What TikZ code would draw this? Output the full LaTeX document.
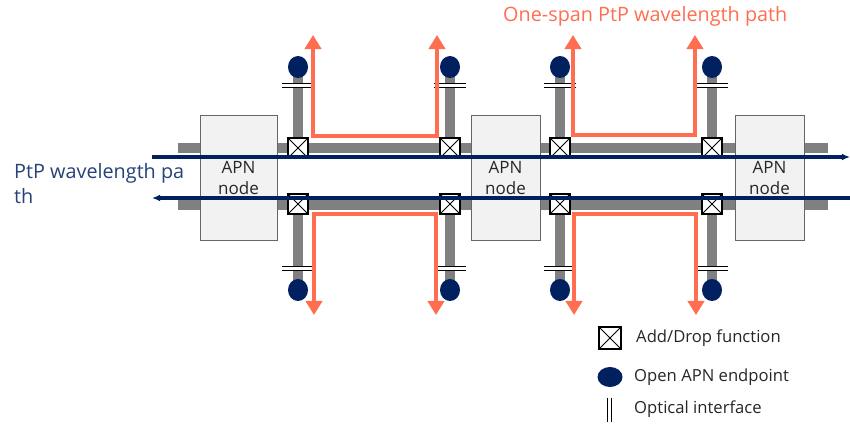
\documentclass[tikz,border=0pt]{standalone}
\usepackage{fontspec}
\setmainfont{Open Sans}
\usetikzlibrary{arrows.meta,shapes.geometric,backgrounds}
\definecolor{navy}{RGB}{0,32,96}
\definecolor{coral}{RGB}{255,110,80}
\definecolor{bar}{RGB}{128,128,128}
\definecolor{boxfill}{RGB}{242,242,242}

\begin{document}
\begin{tikzpicture}[x=0.03cm,y=-0.03cm]
  \tikzstyle{fiber}=[draw=bar,line width=8.5pt]
  \tikzstyle{apn}=[rectangle,draw=black!60,fill=boxfill,minimum height=3.75cm,inner sep=0pt,align=center,text=black!85,font=\fontsize{14.5}{18}\selectfont]
  \tikzstyle{adddrop}=[rectangle,draw=black,fill=white,line width=1.9pt,minimum size=0.62cm,inner sep=0pt,
    path picture={\draw[line width=0.8pt] (path picture bounding box.south west) -- (path picture bounding box.north east)
      (path picture bounding box.north west) -- (path picture bounding box.south east);}]
  \tikzstyle{endpoint}=[ellipse,fill=navy,minimum width=0.6cm,minimum height=0.66cm,inner sep=0pt]
  \tikzstyle{wave}=[draw=navy,line width=2.6pt]
  \tikzstyle{span}=[draw=coral,line width=2.6pt,{Triangle[width=14pt,length=12pt]}-{Triangle[width=14pt,length=12pt]}]
  \tikzstyle{legend}=[anchor=west,inner sep=0pt,text=black!85,font=\fontsize{14.2}{16}\selectfont]
  \useasboundingbox (0,0) rectangle (850,423);

  % APN nodes
  \foreach \name/\x/\w in {apn-1/238.5/2.31cm, apn-2/505.5/2.07cm, apn-3/769.5/2.07cm}
    \node[apn,minimum width=\w] (\name) at (\x,178) {APN\\node};

  % add/drop functions and open endpoints
  \foreach \i/\x in {1/298, 2/450, 3/560, 4/712} {
    \node[adddrop] (U-\i) at (\x,148) {};
    \node[adddrop] (L-\i) at (\x,204) {};
    \node[endpoint] (T-\i) at (\x,67) {};
    \node[endpoint] (B-\i) at (\x,290) {};
  }

  % grey fibres behind
  \coordinate (W-1) at (178,148); \coordinate (E-1) at (828,148);
  \coordinate (W-2) at (178,205); \coordinate (E-2) at (828,205);
  \begin{scope}[on background layer]
    \draw[fiber] (W-1) -- (E-1);
    \draw[fiber] (W-2) -- (E-2);
    \foreach \i in {1,...,4}
      { \draw[fiber] (T-\i.center) -- (U-\i.center); \draw[fiber] (L-\i.center) -- (B-\i.center); }
  \end{scope}

  % optical interfaces
  \foreach \x in {298,450,560,712}
    \foreach \y in {85,268} {
      \fill[white] (\x-16,\y-2) rectangle (\x+16,\y+2);
      \draw[line width=0.8pt] (\x-16,\y-2) -- (\x+16,\y-2) (\x-16,\y+2) -- (\x+16,\y+2);
    }

  % PtP wavelength paths
  \coordinate (P-w) at (152,157); \coordinate (P-e) at (850,157);
  \coordinate (Q-w) at (152,198); \coordinate (Q-e) at (850,198);
  \draw[wave,-{Latex[length=7pt,width=6pt]}] (P-w) -- (P-e);
  \draw[wave,-{Latex[length=7pt,width=6pt]}] (Q-e) -- (Q-w);

  % one-span paths
  \foreach \a/\b/\y/\d in {313/437/35/101, 573/695/35/100, 314/436/315/-101, 574/696/315/-101} {
    \coordinate (S-a) at (\a,\y); \coordinate (S-b) at (\b,\y);
    \draw[span] (S-a) -- ++(0,\d) -| (S-b);
  }

  % labels
  \node[anchor=west,inner sep=0pt,text=coral,font=\fontsize{16.9}{20}\selectfont] (title) at (503,16) {One-span PtP wavelength path};
  \node[anchor=north west,inner sep=0pt,align=left,text=navy!85!white,font=\fontsize{16.9}{21.5}\selectfont] (ptp) at (14,163) {PtP wavelength pa\\th};

  % legend
  \node[adddrop,minimum size=0.66cm] (K-1) at (610,338) {};
  \node[ellipse,fill=navy,minimum width=0.75cm,minimum height=0.6cm,inner sep=0pt] (K-2) at (610,377) {};
  \draw[line width=0.8pt] (607,398) -- (607,422) (611,398) -- (611,422);
  \node[legend] (K-1t) at (636,338) {Add/Drop function};
  \node[legend] (K-2t) at (634,377) {Open APN endpoint};
  \node[legend] (K-3t) at (634,409) {Optical interface};
\end{tikzpicture}
\end{document}
